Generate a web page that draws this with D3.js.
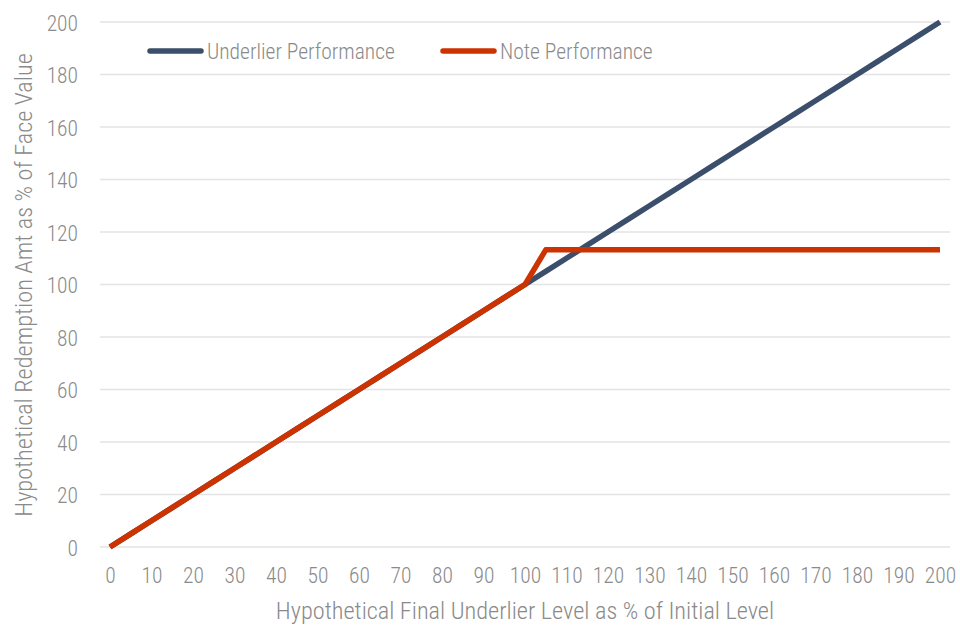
<!DOCTYPE html>
<html><head><meta charset="utf-8">
<script src="https://cdn.jsdelivr.net/npm/d3@7"></script>
<style>
body{margin:0;background:#fff;}
text{font-family:"Roboto Condensed","Liberation Sans Narrow","DejaVu Sans Condensed",sans-serif;font-weight:300;fill:#8a8a8a;}
</style></head><body>
<svg id="c" width="960" height="628"></svg>
<script>
const levels = [0,5,10,15,20,25,30,35,40,45,50,55,60,65,70,75,80,85,90,95,100,105,110,115,120,125,130,135,140,145,150,155,160,165,170,175,180,185,190,195,200];
const underlier = [0,5,10,15,20,25,30,35,40,45,50,55,60,65,70,75,80,85,90,95,100,105,110,115,120,125,130,135,140,145,150,155,160,165,170,175,180,185,190,195,200];
const note = [0,5,10,15,20,25,30,35,40,45,50,55,60,65,70,75,80,85,90,95,100,113.2,113.2,113.2,113.2,113.2,113.2,113.2,113.2,113.2,113.2,113.2,113.2,113.2,113.2,113.2,113.2,113.2,113.2,113.2,113.2];
const xTicks = [0,10,20,30,40,50,60,70,80,90,100,110,120,130,140,150,160,170,180,190,200];
const yTicks = [0,20,40,60,80,100,120,140,160,180,200];
const seriesNames = ["Underlier Performance","Note Performance"];
const colors = ["#3b4e6b","#cc3300"];
const xTitle = "Hypothetical Final Underlier Level as % of Initial Level";
const yTitle = "Hypothetical Redemption Amt as % of Face Value";

const svg = d3.select("#c");
const x = d3.scaleLinear().domain([0,200]).range([110,940]);
const y = d3.scaleLinear().domain([0,200]).range([547,22]);
const gridX0 = 100, gridX1 = 950;

svg.append("g").selectAll("line").data(yTicks).join("line")
  .attr("x1",gridX0).attr("x2",gridX1)
  .attr("y1",d=>y(d)).attr("y2",d=>y(d))
  .attr("stroke","#e3e3e3").attr("stroke-width",1.3);

const yAxis = d3.axisLeft(y).tickValues(yTicks).tickSize(0).tickPadding(0);
const gy = svg.append("g").attr("transform","translate(78,1.5)").call(yAxis);
gy.select(".domain").remove();
gy.selectAll("text").style("font-size","21.5px").attr("fill","#8a8a8a").attr("font-family",null);

const xAxis = d3.axisBottom(x).tickValues(xTicks).tickSize(0).tickPadding(0);
const gx = svg.append("g").attr("transform","translate(0,568)").call(xAxis);
gx.select(".domain").remove();
gx.selectAll("text").style("font-size","21.5px").attr("fill","#8a8a8a").attr("font-family",null);

const line = d3.line().x((d,i)=>x(levels[i])).y(d=>y(d));
svg.append("path").datum(underlier).attr("d",line).attr("fill","none")
  .attr("stroke",colors[0]).attr("stroke-width",5.5).attr("stroke-linejoin","round");
svg.append("path").datum(note).attr("d",line).attr("fill","none")
  .attr("stroke",colors[1]).attr("stroke-width",5.5).attr("stroke-linejoin","round");

const legX = [150,443];
seriesNames.forEach((n,i)=>{
  svg.append("line").attr("x1",legX[i]).attr("x2",legX[i]+51).attr("y1",51).attr("y2",51)
    .attr("stroke",colors[i]).attr("stroke-width",5.5).attr("stroke-linecap","round");
  svg.append("text").attr("x",legX[i]+57).attr("y",51).attr("dy","0.36em")
    .style("font-size","21.5px").text(n);
});

svg.append("text").attr("x",525).attr("y",619).attr("text-anchor","middle")
  .style("font-size","24.3px").text(xTitle);
svg.append("text").attr("transform","translate(32,285) rotate(-90)").attr("text-anchor","middle")
  .style("font-size","24.3px").text(yTitle);
</script></body></html>
